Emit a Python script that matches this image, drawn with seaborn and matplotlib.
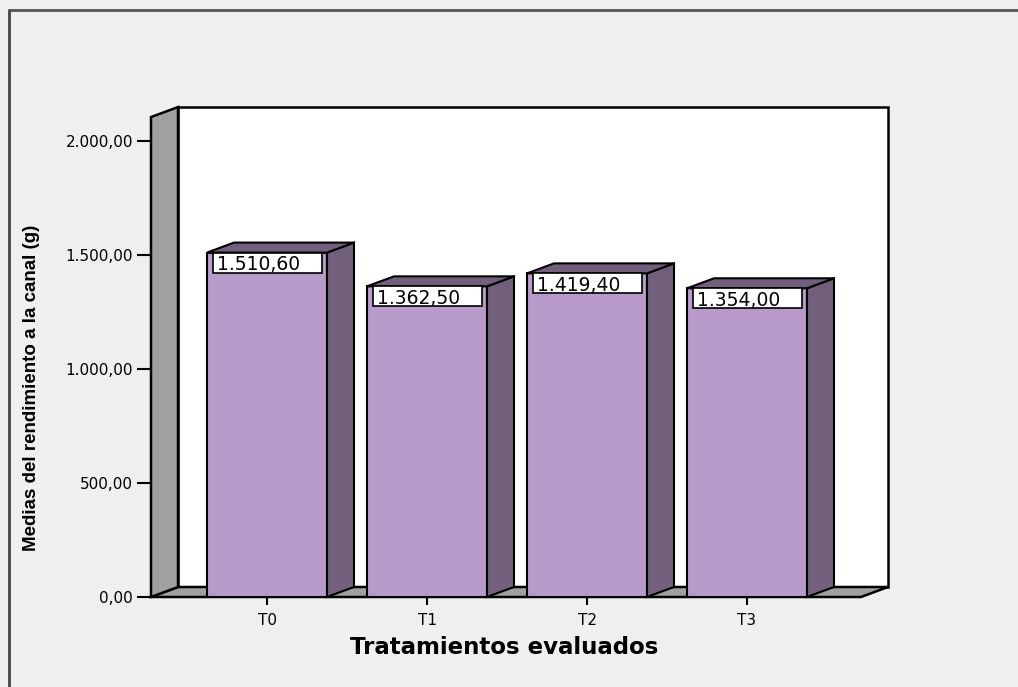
import matplotlib
matplotlib.use("Agg")
import matplotlib.pyplot as plt
from matplotlib.patches import Polygon, Rectangle
from matplotlib.lines import Line2D
from matplotlib.ticker import FuncFormatter
import seaborn as sns
import pandas as pd

# data
tratamientos = ['T0', 'T1', 'T2', 'T3']
medias = [1510.60, 1362.50, 1419.40, 1354.00]
y_ticks = [0, 500, 1000, 1500, 2000]

FRONT = '#b89bca'
SIDE = '#715f7b'
WALL = '#a0a0a0'
BG = '#efefef'


def es_num(v, pos=None):
    s = f'{v:,.2f}'
    return s.replace(',', '_').replace('.', ',').replace('_', '.')


sns.set_style('white')
plt.rcParams['font.family'] = ['DejaVu Sans']
plt.rcParams['text.color'] = 'black'
plt.rcParams['xtick.color'] = 'black'
plt.rcParams['ytick.color'] = 'black'

W, H = 1018, 687
fig = plt.figure(figsize=(W / 100, H / 100), dpi=100, facecolor=BG)

# axes box in pixels: x 151..888, y 101..597
ax = fig.add_axes([151 / W, (H - 597) / H, (888 - 151) / W, (597 - 101) / H])
ax.set_facecolor('none')

x0, x1 = -0.725, 3.7125          # floor front edge
DX, DY = 0.16875, 43.86          # depth offset
top = 2105                       # front top of left wall
bw = 0.75
px_x, px_y = 1 / 160, 1 / 0.228  # data units per pixel

df = pd.DataFrame({'Tratamiento': tratamientos, 'Media': medias})

# back wall, floor, left wall
ax.add_patch(Polygon([(x0 + DX, DY), (x1 + DX, DY), (x1 + DX, top + DY), (x0 + DX, top + DY)],
                     closed=True, fc='white', ec='black', lw=1.8, zorder=0, clip_on=False))
ax.add_patch(Polygon([(x0, 0), (x1, 0), (x1 + DX, DY), (x0 + DX, DY)],
                     closed=True, fc=WALL, ec='black', lw=1.8, zorder=0.5, clip_on=False))
ax.add_patch(Polygon([(x0, 0), (x0 + DX, DY), (x0 + DX, top + DY), (x0, top)],
                     closed=True, fc=WALL, ec='black', lw=1.8, zorder=0.5, clip_on=False))

sns.barplot(data=df, x='Tratamiento', y='Media', ax=ax, color=FRONT, saturation=1,
            width=bw, edgecolor='black', linewidth=1.5, errorbar=None, zorder=2)

for i, h in enumerate(medias):
    xl, xr = i - bw / 2, i + bw / 2
    ax.add_patch(Polygon([(xr, 0), (xr + DX, DY), (xr + DX, h + DY), (xr, h)],
                         closed=True, fc=SIDE, ec='black', lw=1.5, zorder=2, clip_on=False))
    ax.add_patch(Polygon([(xl, h), (xl + DX, h + DY), (xr + DX, h + DY), (xr, h)],
                         closed=True, fc=SIDE, ec='black', lw=1.5, zorder=2, clip_on=False))
    bx, bh = 109 * px_x, 20 * px_y
    ax.add_patch(Rectangle((xl + 6 * px_x, h - bh), bx, bh, fc='white', ec='black',
                           lw=1.2, zorder=3))
    ax.text(xl + 10 * px_x, h - bh / 2, es_num(h), ha='left', va='center_baseline',
            fontsize=13.5, zorder=4)

ax.set_xlim(x0, x0 + (888 - 151) / 160)
ax.set_ylim(0, 496 / 0.228)
for s in ax.spines.values():
    s.set_visible(False)

ax.set_yticks(y_ticks)
ax.yaxis.set_major_formatter(FuncFormatter(es_num))
ax.tick_params(axis='y', left=True, length=10, width=1.5, pad=3, labelsize=11, color='black')
ax.tick_params(axis='x', bottom=True, length=6, width=1.5, pad=5.5, labelsize=11, color='black')
ax.set_xlabel('')
ax.set_ylabel('')

fig.text(504 / W, 1 - 648 / H, 'Tratamientos evaluados', ha='center', va='center',
         fontsize=16.5, fontweight='bold')
fig.text(32 / W, 1 - 388 / H, 'Medias del rendimiento a la canal (g)', rotation=90,
         ha='center', va='center', fontsize=13.5, fontweight='bold',
         family=['Liberation Sans'])

# outer frame (left and top edges visible)
fig.add_artist(Line2D([9 / W, 9 / W], [0, 1 - 10 / H], color='#444444', lw=2))
fig.add_artist(Line2D([9 / W, 1], [1 - 10 / H, 1 - 10 / H], color='#555555', lw=2))

fig.savefig('out.png', dpi=100, facecolor=BG)
